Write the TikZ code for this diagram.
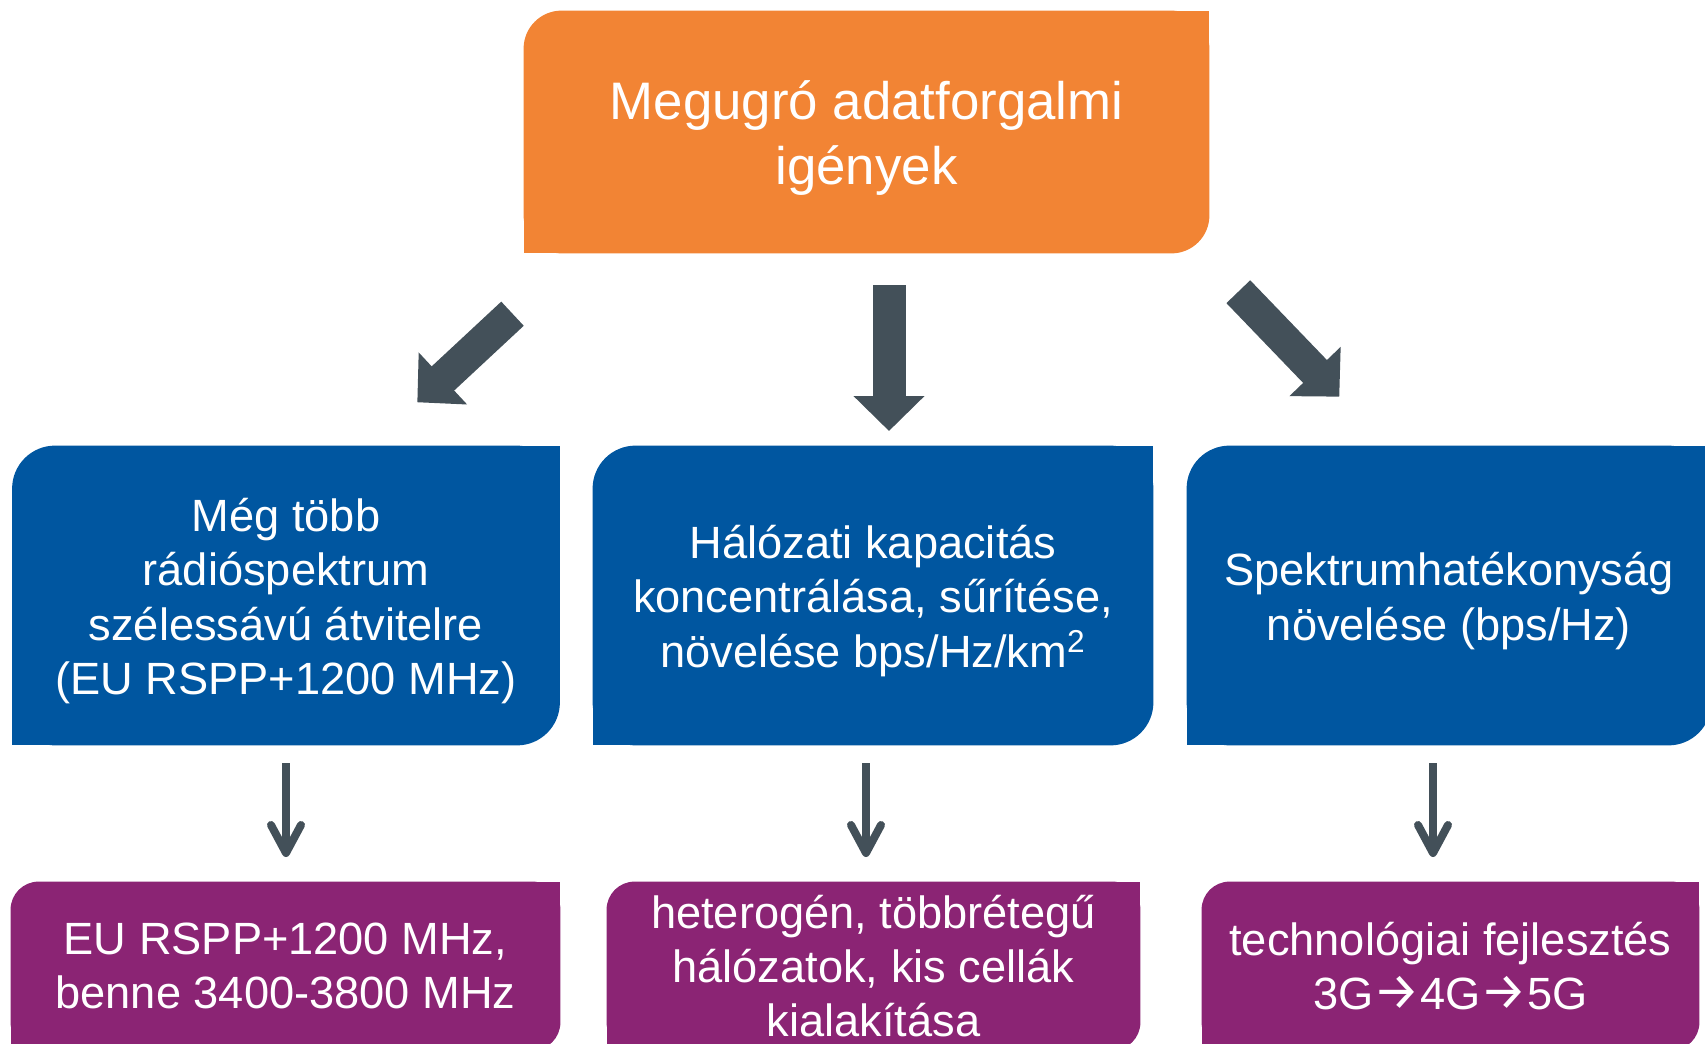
\documentclass[tikz,border=0pt]{standalone}
\usepackage{fontspec}
\setmainfont{Liberation Sans}
\newfontfamily\arrowfont{Fira Sans}
\usetikzlibrary{arrows.meta,backgrounds}

\definecolor{topclr}{RGB}{242,132,52}
\definecolor{midclr}{RGB}{0,86,160}
\definecolor{lowclr}{RGB}{139,36,116}
\definecolor{arrclr}{RGB}{67,80,89}

\newcommand\tto{{\arrowfont\fontsize{26}{27.2}\selectfont→}}

\tikzset{
  box/.style={inner sep=0pt, align=center, text=white},
  topbox/.style={box, minimum width=342.5pt, minimum height=121pt, font=\fontsize{26.4}{32.5}\selectfont},
  midbox/.style={box, minimum height=149.5pt, font=\fontsize{22.6}{27.2}\selectfont},
  lowbox/.style={box, minimum height=84pt, font=\fontsize{22.6}{27.2}\selectfont},
  fatarrow/.style={arrclr, line width=16.5pt, -{Triangle[width=34.5pt, length=17.5pt]}},
  thinarrow/.style={arrclr, line width=4pt, -{Straight Barb[round, width=15pt, length=14pt]}},
}

\begin{document}
\begin{tikzpicture}[x=0.5pt, y=-0.5pt]
\useasboundingbox (0,0) rectangle (1705,1044);

% boxes (text sits a little low in the top rows)
\node[topbox] (need) at (866.5,138.5) {Megugró adatforgalmi\\igények};
\node[midbox, minimum width=273.5pt] (spec) at (286,601) {Még több\\rádióspektrum\\szélessávú átvitelre\\(EU RSPP+1200 MHz)};
\node[midbox, minimum width=280pt] (cap) at (873,601) {Hálózati kapacitás\\koncentrálása, sűrítése,\\növelése bps/Hz/km\textsuperscript{2}};
\node[midbox, minimum width=262pt] (eff) at (1449,601) {Spektrumhatékonyság\\növelése (bps/Hz)};
\node[lowbox, minimum width=274.5pt] (band) at (285.5,966) {EU RSPP+1200 MHz,\\benne 3400-3800 MHz};
\node[lowbox, minimum width=266.5pt] (het) at (873.5,966) {heterogén, többrétegű\\hálózatok, kis cellák\\kialakítása};
\node[lowbox, minimum width=248.5pt] (tech) at (1450.5,966) {technológiai fejlesztés\\3G\tto4G\tto5G};

% only two corners are round
\begin{scope}[on background layer]
  \foreach \n/\clr/\rad/\dy in {need/topclr/19pt/3.25pt, spec/midclr/21.5pt/2.75pt, cap/midclr/21.5pt/2.75pt,
      eff/midclr/21.5pt/2.75pt, band/lowclr/14pt/0pt, het/lowclr/14pt/0pt, tech/lowclr/14pt/0pt} {
    \fill[\clr, rounded corners=\rad] ([yshift=\dy]\n.south west) rectangle ([yshift=\dy]\n.north east);
    \fill[\clr] ([yshift=\dy]\n.south west) rectangle ([yshift=\dy]\n.center);
    \fill[\clr] ([yshift=\dy]\n.center) rectangle ([yshift=\dy]\n.north east);
  }
\end{scope}

% big arrows
\coordinate (l0) at (512.5,313.7);
\coordinate (l1) at (417.3,402.3);
\coordinate (m0) at (889,285);
\coordinate (m1) at (889,431);
\coordinate (r0) at (1238.3,291.7);
\coordinate (r1) at (1339.3,396.7);
\draw[fatarrow] (l0) -- (l1);
\draw[fatarrow] (m0) -- (m1);
\draw[fatarrow] (r0) -- (r1);

% small arrows
\coordinate (a0) at (286,763);
\coordinate (a1) at (286,857);
\coordinate (b0) at (866,763);
\coordinate (b1) at (866,857);
\coordinate (c0) at (1433,763);
\coordinate (c1) at (1433,857);
\draw[thinarrow] (a0) -- (a1);
\draw[thinarrow] (b0) -- (b1);
\draw[thinarrow] (c0) -- (c1);
\end{tikzpicture}
\end{document}
